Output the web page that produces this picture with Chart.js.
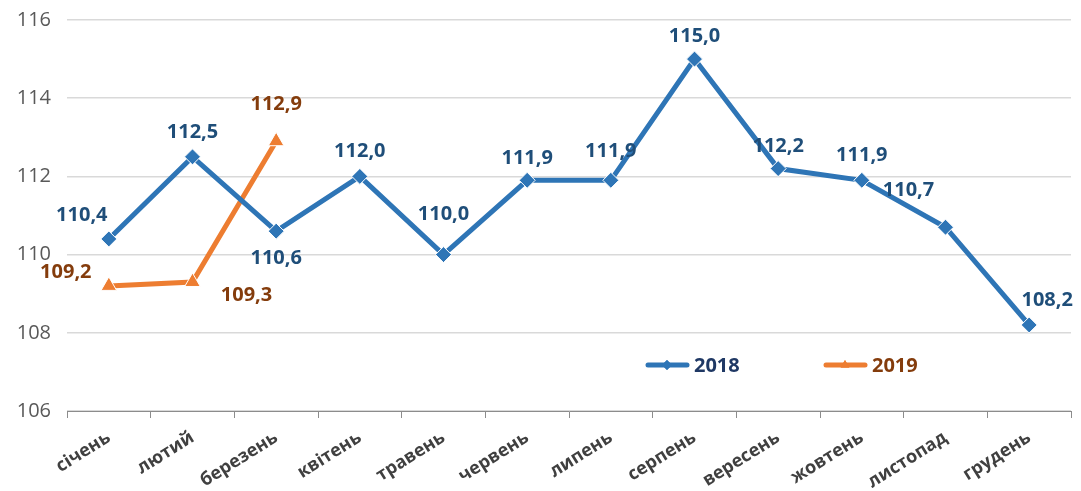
<!DOCTYPE html>
<html>
<head>
<meta charset="utf-8">
<script src="https://cdn.jsdelivr.net/npm/chart.js@4/dist/chart.umd.min.js"></script>
<style>
    html, body { margin: 0; padding: 0; background: #fff; }
    #wrap { width: 1081px; height: 491px; }
</style>
</head>
<body>
<div id="wrap"><canvas id="indexChart" width="1081" height="491"></canvas></div>
<script>
const months = ["січень", "лютий", "березень", "квітень", "травень", "червень",
    "липень", "серпень", "вересень", "жовтень", "листопад", "грудень"];
const values2018 = [110.4, 112.5, 110.6, 112.0, 110.0, 111.9, 111.9, 115.0, 112.2, 111.9, 110.7, 108.2];
const values2019 = [109.2, 109.3, 112.9, null, null, null, null, null, null, null, null, null];
const yTicks = [106, 108, 110, 112, 114, 116];

// label offsets from the point (dx, dy), as placed in the original
const offsets2018 = [[-27, -24], [0, -25], [0, 27], [0, -25], [0, -40], [0, -22],
    [0, -29], [0, -23], [0, -22], [0, -25], [-37, -37], [18, -25]];
const offsets2019 = [[-43, -14], [54, 13], [0, -37]];

const blue = "#2E75B6";
const orange = "#ED7D31";
const blueText = "#1F4E79";
const brownText = "#843C0C";
const fontFamily = "'Open Sans', sans-serif";

const fmt = v => v.toFixed(1).replace(".", ",");

// draws value labels next to each point
const valueLabels = {
    id: "valueLabels",
    afterDatasetsDraw(chart) {
        const ctx = chart.ctx;
        ctx.save();
        ctx.font = "bold 20px " + fontFamily;
        ctx.textAlign = "center";
        ctx.textBaseline = "middle";
        chart.data.datasets.forEach((ds, i) => {
            const meta = chart.getDatasetMeta(i);
            const offs = i === 0 ? offsets2018 : offsets2019;
            ctx.fillStyle = i === 0 ? blueText : brownText;
            meta.data.forEach((pt, j) => {
                const v = ds.data[j];
                if (v === null || v === undefined) return;
                const o = offs[j] || [0, -25];
                ctx.fillText(fmt(v), pt.x + o[0], pt.y + o[1]);
            });
        });
        ctx.restore();
    }
};

// legend drawn inside the plot area
const innerLegend = {
    id: "innerLegend",
    afterDraw(chart) {
        const ctx = chart.ctx;
        const y = 365;
        const items = [
            { x: 645, color: blue, text: "2018", textColor: "#1F3864", style: "rectRot" },
            { x: 823, color: orange, text: "2019", textColor: brownText, style: "triangle" }
        ];
        ctx.save();
        items.forEach(it => {
            ctx.strokeStyle = it.color;
            ctx.lineWidth = 5;
            ctx.lineCap = "round";
            ctx.beginPath();
            ctx.moveTo(it.x + 3, y);
            ctx.lineTo(it.x + 42, y);
            ctx.stroke();
            ctx.fillStyle = it.color;
            Chart.helpers.drawPoint(ctx, { pointStyle: it.style, radius: 5, borderWidth: 0 }, it.x + 22, y);
            ctx.fill();
            ctx.fillStyle = it.textColor;
            ctx.font = "bold 20px " + fontFamily;
            ctx.textAlign = "left";
            ctx.textBaseline = "middle";
            ctx.fillText(it.text, it.x + 49, y + 1);
        });
        ctx.restore();
    }
};

const ctx = document.getElementById("indexChart").getContext("2d");
new Chart(ctx, {
    type: "line",
    data: {
        labels: months,
        datasets: [
            {
                label: "2018",
                data: values2018,
                borderColor: blue,
                backgroundColor: blue,
                borderWidth: 5,
                pointStyle: "rectRot",
                pointRadius: 8,
                pointBorderColor: "#ffffff",
                pointBorderWidth: 1,
                pointBackgroundColor: blue,
                tension: 0
            },
            {
                label: "2019",
                data: values2019,
                borderColor: orange,
                backgroundColor: orange,
                borderWidth: 5,
                pointStyle: "triangle",
                pointRadius: 9,
                pointBorderColor: "#ffffff",
                pointBorderWidth: 1,
                pointBackgroundColor: orange,
                spanGaps: false,
                tension: 0
            }
        ]
    },
    options: {
        responsive: false,
        animation: false,
        layout: { padding: { top: 20, right: 6, left: 0, bottom: 0 } },
        plugins: {
            legend: { display: false },
            tooltip: { enabled: false }
        },
        scales: {
            x: {
                offset: true,
                grid: {
                    offset: true,
                    drawOnChartArea: false,
                    drawTicks: true,
                    tickLength: 7,
                    color: "#8c8c8c"
                },
                border: { color: "#8c8c8c", width: 1 },
                ticks: {
                    minRotation: 32,
                    maxRotation: 32,
                    color: "#404040",
                    padding: 9,
                    font: { family: fontFamily, size: 18, weight: "bold" }
                },
                afterFit(scale) { scale.height = 80; }
            },
            y: {
                min: 106,
                max: 116,
                afterBuildTicks(scale) { scale.ticks = yTicks.map(v => ({ value: v })); },
                grid: { color: "#d9d9d9", lineWidth: 1.5, drawTicks: false },
                border: { display: false },
                ticks: {
                    color: "#595959",
                    padding: 16,
                    font: { family: fontFamily, size: 20 }
                },
                afterFit(scale) {
                    scale.width = 67;
                    scale.paddingTop = 0;
                    scale.paddingBottom = 0;
                }
            }
        }
    },
    plugins: [valueLabels, innerLegend]
});
</script>
</body>
</html>
